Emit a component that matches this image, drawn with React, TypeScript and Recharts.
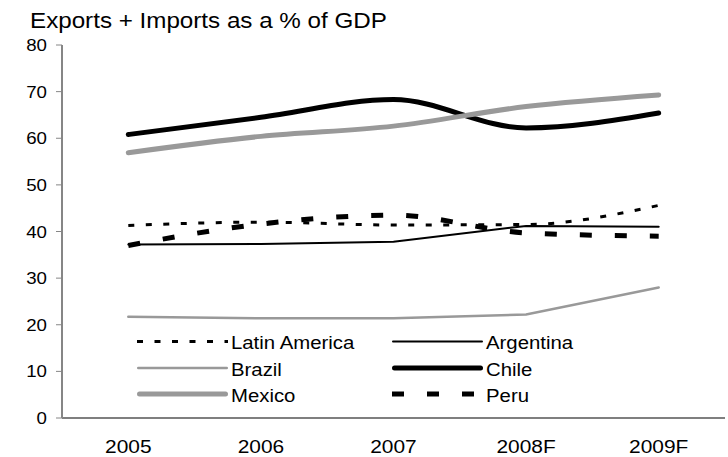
import React from 'react';
import { LineChart, Line, XAxis, YAxis, Legend } from 'recharts';

// Trade openness (exports + imports, % of GDP)
const categories = ['2005', '2006', '2007', '2008F', '2009F'];
const latinAmerica = [41.3, 42.0, 41.4, 41.5, 45.6];
const argentina = [37.2, 37.3, 37.8, 41.2, 41.0];
const brazil = [21.7, 21.4, 21.4, 22.2, 28.0];
const chile = [60.8, 64.5, 68.3, 62.2, 65.4];
const mexico = [56.9, 60.4, 62.6, 66.8, 69.3];
const peru = [37.0, 41.6, 43.5, 39.7, 39.0];
const yTicks = [0, 10, 20, 30, 40, 50, 60, 70, 80];

const FONT = '"Liberation Sans", Arial, sans-serif';
const STRETCH = 1.1;

type SeriesStyle = {
  key: string;
  name: string;
  values: number[];
  color: string;
  width: number;
  dash?: string;
  curve: 'monotone' | 'linear';
  cap: 'butt' | 'round';
};

const series: SeriesStyle[] = [
  { key: 'la', name: 'Latin America', values: latinAmerica, color: '#000000', width: 3, dash: '6 11.5', curve: 'monotone', cap: 'butt' },
  { key: 'ar', name: 'Argentina', values: argentina, color: '#000000', width: 2, curve: 'linear', cap: 'round' },
  { key: 'br', name: 'Brazil', values: brazil, color: '#999999', width: 2.5, curve: 'linear', cap: 'round' },
  { key: 'cl', name: 'Chile', values: chile, color: '#000000', width: 5, curve: 'monotone', cap: 'round' },
  { key: 'mx', name: 'Mexico', values: mexico, color: '#999999', width: 5, curve: 'monotone', cap: 'round' },
  { key: 'pe', name: 'Peru', values: peru, color: '#000000', width: 5, dash: '12 23', curve: 'monotone', cap: 'butt' },
];

const data = categories.map((c, i) => {
  const row: Record<string, number | string> = { label: c, pos: i + 0.5 };
  series.forEach((s) => {
    row[s.key] = s.values[i];
  });
  return row;
});

const labelTicks = categories.map((_, i) => i + 0.5);
const boundaryTicks = [0, ...categories.map((_, i) => i + 1)];

const YTick = (props: any) => {
  const { x, y, payload } = props;
  return (
    <text
      x={0}
      y={0}
      transform={`translate(${x},${y + 6}) scale(${STRETCH},1)`}
      textAnchor="end"
      fontSize={17}
      fontFamily={FONT}
      fill="#000"
    >
      {payload.value}
    </text>
  );
};

const XTick = (props: any) => {
  const { x, y, index } = props;
  return (
    <text
      x={0}
      y={0}
      transform={`translate(${x},${y + 33.5}) scale(${STRETCH},1)`}
      textAnchor="middle"
      fontSize={19}
      fontFamily={FONT}
      fill="#000"
    >
      {categories[index]}
    </text>
  );
};

// Two-column legend, filled row by row in series order
const LegendContent = (props: any) => {
  const payload: any[] = props.payload || [];
  const names = new Set(payload.map((p) => p.value));
  const items = series.filter((s) => names.has(s.name));
  const colX = [0, 255];
  const rowY = [13.5, 40, 66];
  return (
    <svg width={480} height={82} style={{ display: 'block' }}>
      {items.map((s, i) => {
        const cx = colX[i % 2];
        const cy = rowY[Math.floor(i / 2)];
        const inset = s.cap === 'round' ? s.width / 2 : 0;
        return (
          <g key={s.key}>
            <line
              x1={cx + inset}
              x2={cx + 91 - inset}
              y1={cy}
              y2={cy}
              stroke={s.color}
              strokeWidth={s.width}
              strokeDasharray={s.dash}
              strokeLinecap={s.cap}
            />
            <text
              x={0}
              y={0}
              transform={`translate(${cx + 94},${cy + 7.5}) scale(${STRETCH},1)`}
              fontSize={18.5}
              fontFamily={FONT}
              fill="#000"
            >
              {s.name}
            </text>
          </g>
        );
      })}
    </svg>
  );
};

export default function App() {
  return (
    <div style={{ position: 'absolute', left: 0, top: 0, width: 728, height: 457, background: '#fff' }}>
      <svg width={728} height={40} style={{ position: 'absolute', left: 0, top: 0 }}>
        <text
          x={0}
          y={0}
          transform={`translate(30,27.5) scale(${STRETCH},1)`}
          fontSize={22}
          fontFamily={FONT}
          fill="#000"
        >
          Exports + Imports as a % of GDP
        </text>
      </svg>
      <LineChart
        width={728}
        height={457}
        data={data}
        margin={{ top: 45, right: 3, bottom: 0, left: 0 }}
      >
        <XAxis
          xAxisId="bounds"
          type="number"
          dataKey="pos"
          domain={[0, 5]}
          allowDataOverflow
          ticks={boundaryTicks}
          interval={0}
          tick={false}
          tickSize={6}
          tickLine={{ stroke: '#000', strokeWidth: 1 }}
          axisLine={{ stroke: '#000', strokeWidth: 1.2 }}
          height={1}
        />
        <XAxis
          xAxisId="cat"
          type="number"
          dataKey="pos"
          domain={[0, 5]}
          allowDataOverflow
          ticks={labelTicks}
          interval={0}
          tick={<XTick />}
          tickSize={0}
          tickMargin={0}
          tickLine={false}
          axisLine={false}
          height={38}
        />
        <YAxis
          type="number"
          domain={[0, 80]}
          ticks={yTicks}
          interval={0}
          width={62}
          tick={<YTick />}
          tickSize={6}
          tickMargin={9}
          tickLine={{ stroke: '#868686', strokeWidth: 1 }}
          axisLine={{ stroke: '#868686', strokeWidth: 2 }}
        />
        <Legend
          layout="horizontal"
          verticalAlign="middle"
          align="center"
          itemSorter={null as any}
          content={<LegendContent />}
          wrapperStyle={{ position: 'absolute', left: 137, top: 328, width: 480, height: 82 }}
        />
        {series.map((s) => (
          <Line
            key={s.key}
            xAxisId="cat"
            dataKey={s.key}
            name={s.name}
            type={s.curve}
            stroke={s.color}
            strokeWidth={s.width}
            strokeDasharray={s.dash}
            strokeLinecap={s.cap}
            dot={false}
            activeDot={false}
            isAnimationActive={false}
          />
        ))}
      </LineChart>
    </div>
  );
}
